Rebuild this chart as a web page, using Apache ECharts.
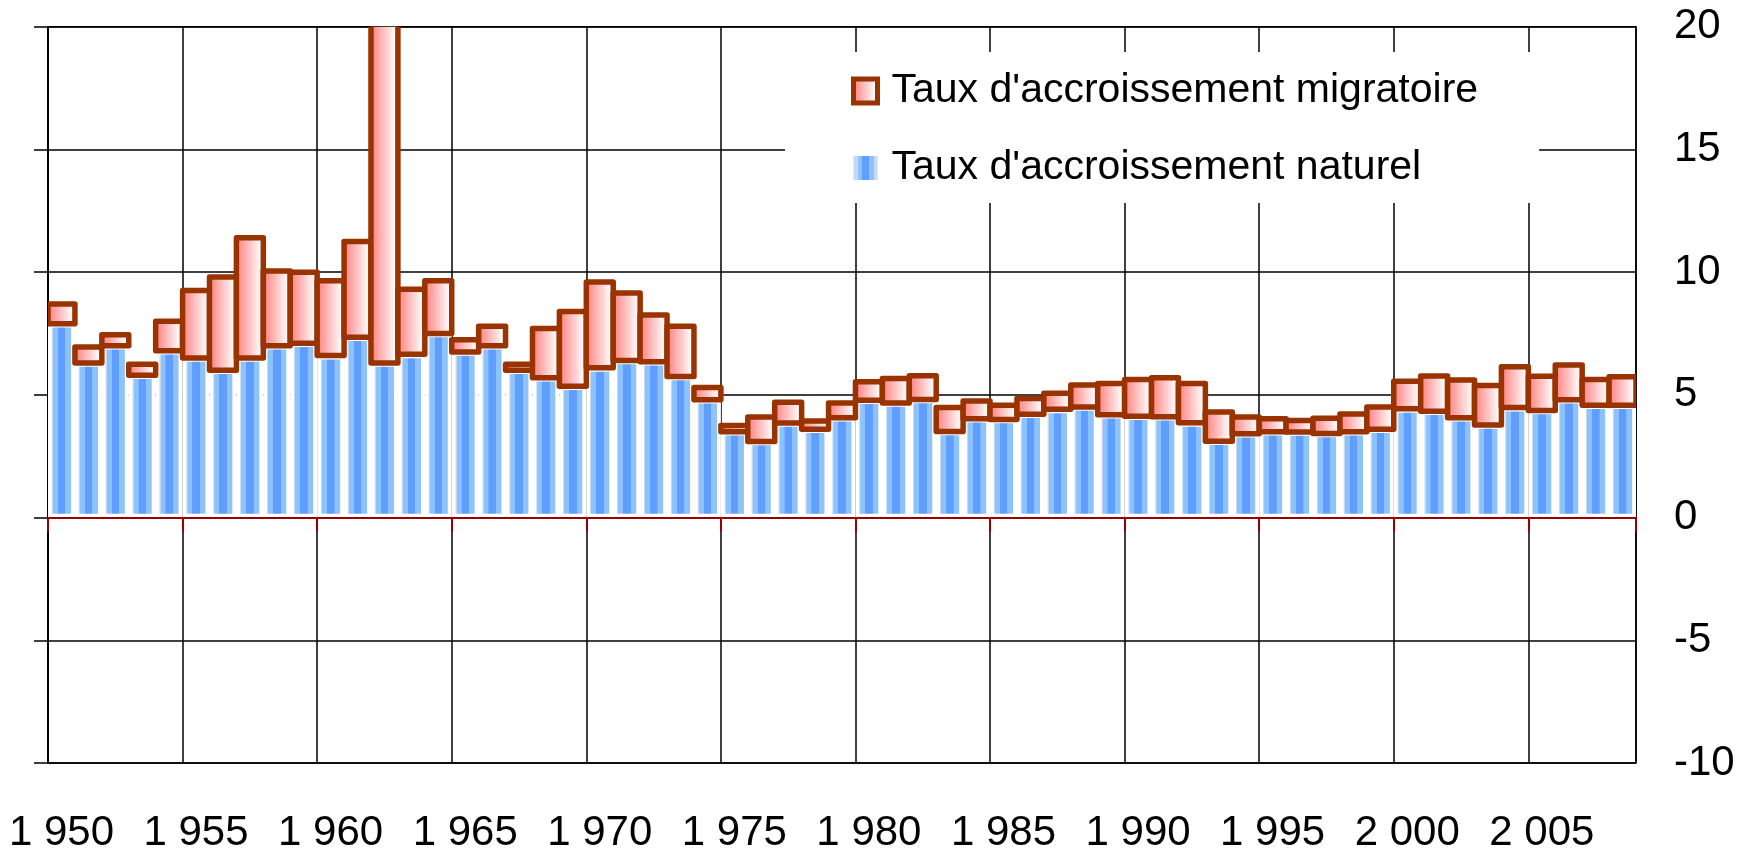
<!DOCTYPE html>
<html>
<head>
<meta charset="utf-8">
<script src="https://cdn.jsdelivr.net/npm/echarts@6/dist/echarts.min.js"></script>
<style>
  html, body { margin: 0; padding: 0; background: #ffffff; }
  #chart { width: 1742px; height: 850px; }
</style>
</head>
<body>
<div id="chart"></div>
<script>
// Category labels (years, French thousands separator)
const years = [
  '1 950','1 951','1 952','1 953','1 954','1 955','1 956','1 957','1 958','1 959',
  '1 960','1 961','1 962','1 963','1 964','1 965','1 966','1 967','1 968','1 969',
  '1 970','1 971','1 972','1 973','1 974','1 975','1 976','1 977','1 978','1 979',
  '1 980','1 981','1 982','1 983','1 984','1 985','1 986','1 987','1 988','1 989',
  '1 990','1 991','1 992','1 993','1 994','1 995','1 996','1 997','1 998','1 999',
  '2 000','2 001','2 002','2 003','2 004','2 005','2 006','2 007','2 008'
];

// Taux d'accroissement naturel (‰)
const naturel = [
  7.9, 6.3, 7.0, 5.8, 6.8, 6.5, 6.0, 6.5, 7.0, 7.1,
  6.6, 7.35, 6.3, 6.65, 7.5, 6.75, 7.0, 6.0, 5.7, 5.35,
  6.1, 6.4, 6.35, 5.75, 4.8, 3.5, 3.1, 3.85, 3.6, 4.07,
  4.78, 4.67, 4.81, 3.51, 4.03, 4.0, 4.21, 4.41, 4.51, 4.19,
  4.13, 4.11, 3.86, 3.11, 3.42, 3.5, 3.49, 3.43, 3.5, 3.6,
  4.43, 4.33, 4.07, 3.77, 4.48, 4.36, 4.80, 4.58, 4.58
];

// Taux d'accroissement migratoire (‰), drawn on top of the natural rate
const migratoire = [
  0.8, 0.65, 0.45, 0.45, 1.2, 2.75, 3.8, 4.9, 3.05, 2.9,
  3.05, 3.9, 18.4, 2.65, 2.15, 0.5, 0.8, 0.25, 2.0, 3.05,
  3.5, 2.75, 1.9, 2.05, 0.5, 0.25, 1.0, 0.85, 0.33, 0.6,
  0.75, 1.0, 0.97, 0.97, 0.72, 0.58, 0.64, 0.66, 0.89, 1.27,
  1.5, 1.59, 1.6, 1.19, 0.68, 0.53, 0.47, 0.62, 0.72, 0.9,
  1.12, 1.44, 1.53, 1.61, 1.67, 1.4, 1.42, 1.05, 1.16
];

// Right axis ticks
const yMin = -10, yMax = 20, yStep = 5;

const nameMig = "Taux d'accroissement migratoire";
const nameNat = "Taux d'accroissement naturel";

const FONT = 'Liberation Sans';
const BROWN = '#993300';

const blueStripes = new echarts.graphic.LinearGradient(0, 0, 1, 0, [
  { offset: 0.00, color: '#c6d7ee' },
  { offset: 0.18, color: '#c6d7ee' },
  { offset: 0.19, color: '#8cc3ff' },
  { offset: 0.36, color: '#8cc3ff' },
  { offset: 0.37, color: '#5f9eff' },
  { offset: 0.64, color: '#5f9eff' },
  { offset: 0.65, color: '#8cc3ff' },
  { offset: 0.84, color: '#8cc3ff' },
  { offset: 0.85, color: '#c6d7ee' },
  { offset: 1.00, color: '#c6d7ee' }
]);
const pinkFade = () => new echarts.graphic.LinearGradient(0, 0, 1, 0, [
  { offset: 0.0, color: '#ff7878' },
  { offset: 0.15, color: '#ff8a8a' },
  { offset: 0.85, color: '#ffffff' },
  { offset: 1.0, color: '#ffffff' }
]);

const boxData = years.map((y, i) => [i, naturel[i], migratoire[i]]);

const chart = echarts.init(document.getElementById('chart'), null, { renderer: 'canvas' });

chart.setOption({
  animation: false,
  backgroundColor: '#ffffff',
  textStyle: { fontFamily: FONT },
  grid: {
    left: 48, right: 106, top: 26.7, bottom: 87,
    containLabel: false,
    outerBoundsMode: 'none',
    show: true, borderColor: '#000', borderWidth: 1.5, backgroundColor: 'transparent'
  },
  legend: {
    orient: 'vertical',
    left: 785, top: 52,
    padding: [15, 61, 11, 66],
    backgroundColor: '#ffffff',
    itemWidth: 24, itemHeight: 24,
    itemGap: 29,
    selectedMode: false,
    textStyle: { fontFamily: FONT, fontSize: 41, color: '#000', lineHeight: 48, padding: [0, 0, 0, 9] },
    data: [
      { name: nameMig, icon: 'rect', itemStyle: { color: pinkFade(), borderColor: BROWN, borderWidth: 5 } },
      { name: nameNat, icon: 'rect', itemStyle: { color: blueStripes, borderWidth: 0 } }
    ]
  },
  xAxis: [
    {
      type: 'category',
      data: years,
      boundaryGap: true,
      axisLine: { show: true, onZero: true, lineStyle: { color: '#990000', width: 1.5 } },
      axisTick: { show: true, interval: 4, length: 14, lineStyle: { color: '#990000', width: 2 } },
      axisLabel: { show: false },
      splitLine: { show: true, interval: 4, lineStyle: { color: '#000', width: 1.5 } }
    },
    {
      type: 'category',
      data: years,
      position: 'bottom',
      boundaryGap: true,
      axisLine: { show: false, onZero: false },
      axisTick: { show: false },
      axisLabel: { show: true, interval: 4, margin: 49, fontFamily: FONT, fontSize: 42, color: '#000' },
      splitLine: { show: false }
    }
  ],
  yAxis: [
    {
      type: 'value', position: 'right',
      min: yMin, max: yMax, interval: yStep,
      axisLine: { show: false },
      axisTick: { show: false },
      axisLabel: { margin: 38, fontFamily: FONT, fontSize: 42, color: '#000' },
      splitLine: { show: true, lineStyle: { color: '#000', width: 1.5 } }
    },
    {
      type: 'value', position: 'left',
      min: yMin, max: yMax, interval: yStep,
      axisLine: { show: true, lineStyle: { color: '#000', width: 1.5 } },
      axisTick: { show: true, length: 14, lineStyle: { color: '#000', width: 1.5 } },
      axisLabel: { show: false },
      splitLine: { show: false }
    }
  ],
  series: [
    {
      name: nameNat,
      type: 'bar',
      xAxisIndex: 0, yAxisIndex: 0,
      data: naturel,
      barCategoryGap: '0%',
      itemStyle: { color: blueStripes, borderColor: '#ffffff', borderWidth: 3.8 },
      z: 2
    },
    {
      name: nameMig,
      type: 'custom',
      xAxisIndex: 0, yAxisIndex: 0,
      data: boxData,
      encode: { x: 0, y: [1, 2] },
      clip: true,
      z: 3,
      itemStyle: { color: '#ff8c8c', borderColor: BROWN },
      markLine: {
        silent: true,
        symbol: 'none',
        label: { show: false },
        lineStyle: { type: 'solid', color: '#990000', width: 1.8 },
        data: [{ yAxis: 0 }]
      },
      renderItem: function (params, api) {
        const idx = api.value(0);
        const base = api.value(1);
        const top = base + api.value(2);
        const p0 = api.coord([idx, base]);
        const p1 = api.coord([idx, top]);
        const w = api.size([1, 0])[0];
        const y0 = Math.min(p0[1], p1[1]);
        const h = Math.abs(p0[1] - p1[1]);
        return {
          type: 'rect',
          shape: { x: p0[0] - w / 2, y: y0, width: w, height: h },
          style: {
            fill: pinkFade(),
            stroke: BROWN,
            lineWidth: 5.5,
            lineJoin: 'round'
          }
        };
      }
    }
  ]
});
</script>
</body>
</html>
